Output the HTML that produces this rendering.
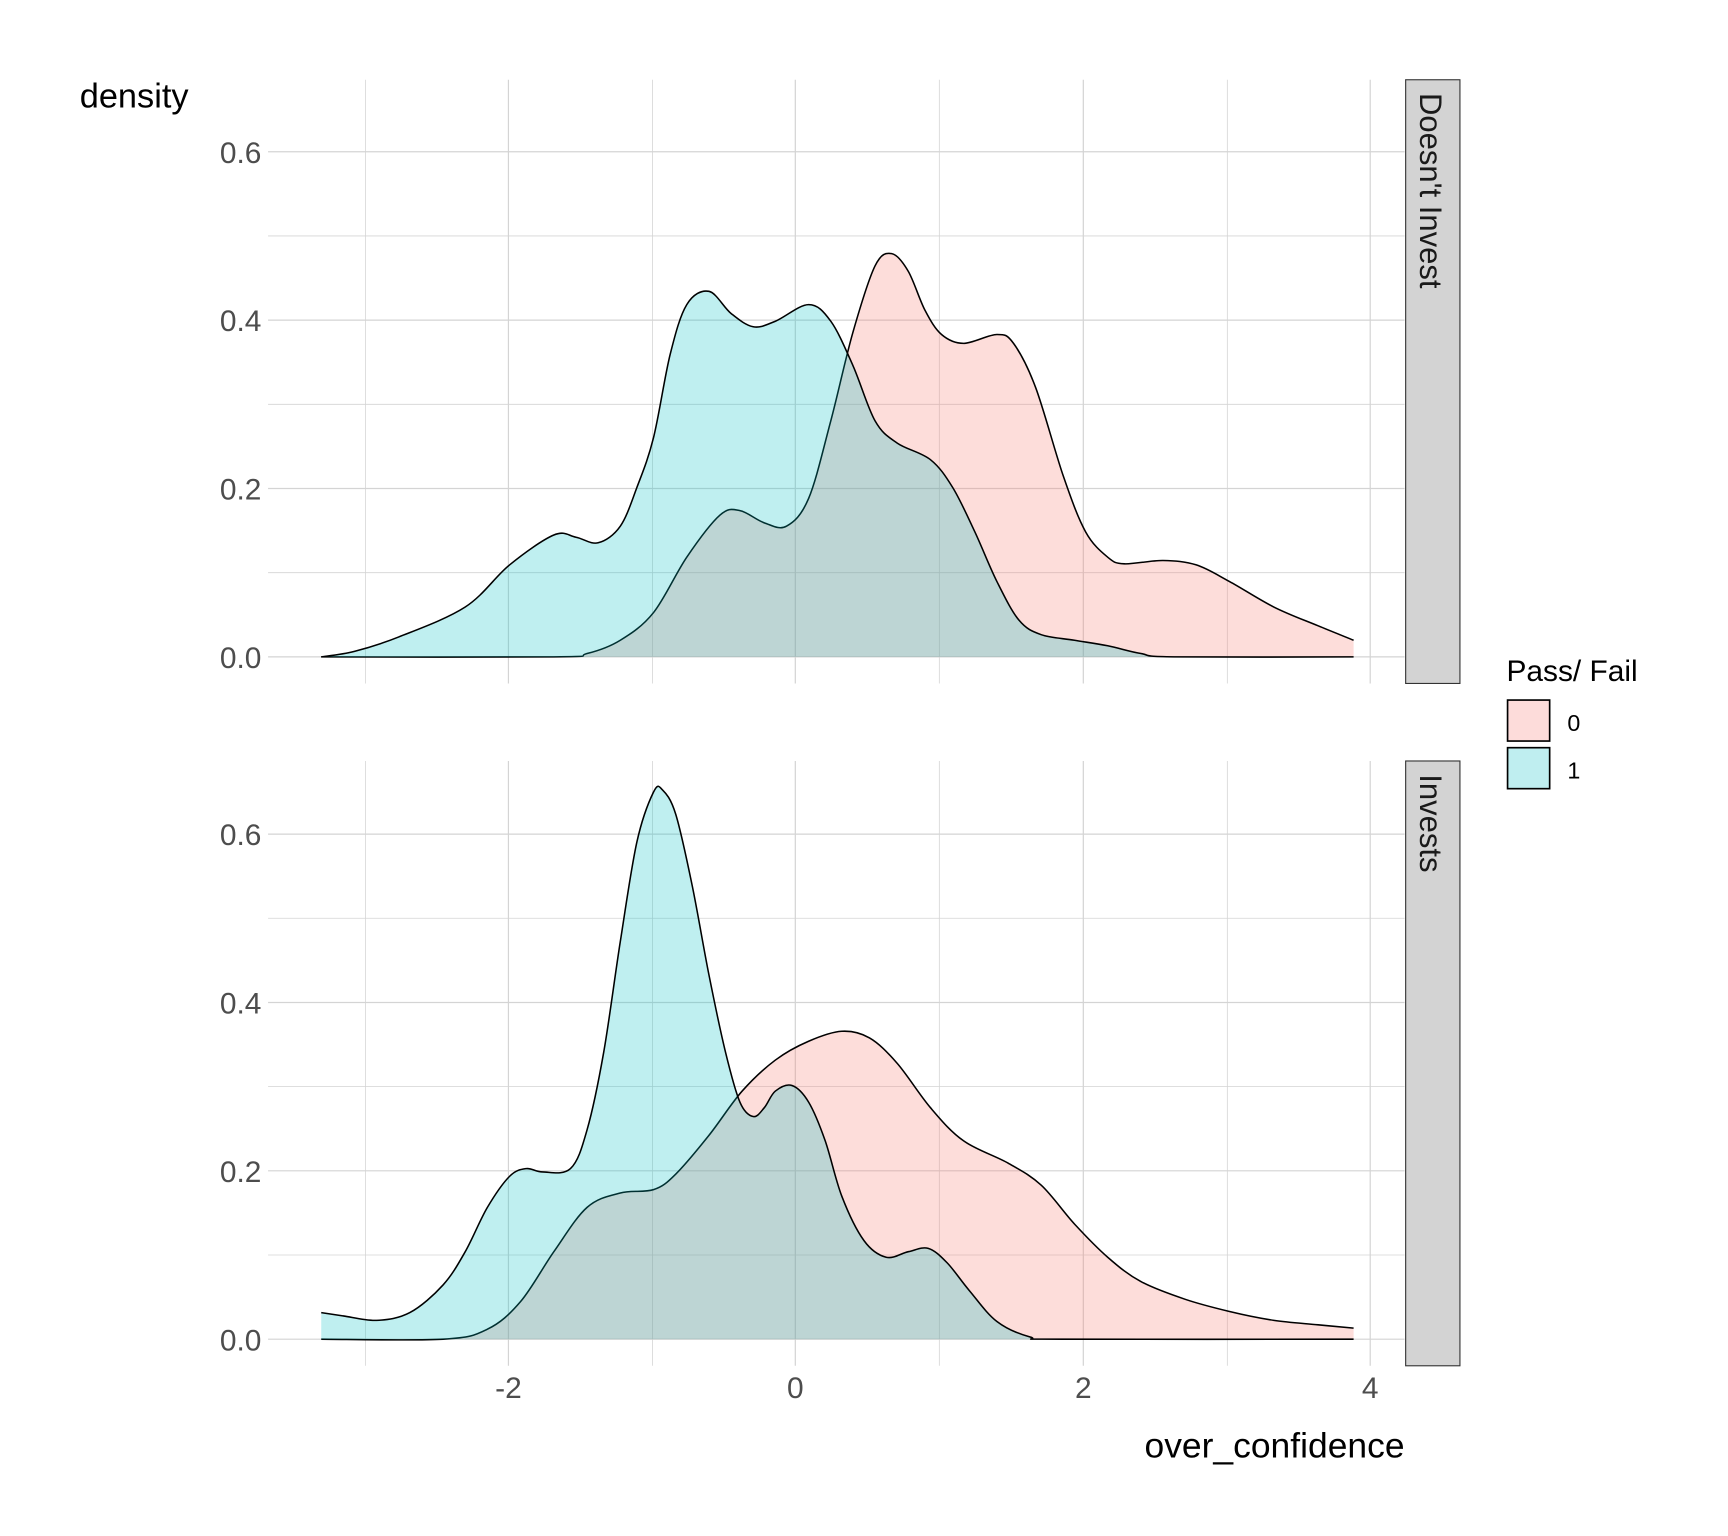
<!DOCTYPE html>
<html><head><meta charset="utf-8"><style>
html,body{margin:0;padding:0;background:#fff}
svg{display:block}
text{font-family:"Liberation Sans",sans-serif}
</style></head><body>
<svg id="s" width="1728" height="1536" viewBox="0 0 1560 1386.67" xmlns="http://www.w3.org/2000/svg">
<rect width="1560" height="1387" fill="#fff"/>
<g id="grid" stroke="#d4d4d4" stroke-width="1"></g>
<g id="curves"></g>
<rect x="1269" y="72" width="49" height="545" fill="#d3d3d3" stroke="#333" stroke-width="1"/>
<rect x="1269" y="687" width="49" height="546" fill="#d3d3d3" stroke="#333" stroke-width="1"/>
<text transform="translate(1282,84) rotate(90)" font-size="28" fill="#1a1a1a">Doesn't Invest</text>
<text transform="translate(1282,699) rotate(90)" font-size="28" fill="#1a1a1a">Invests</text>
<g font-size="27" fill="#4d4d4d" text-anchor="end">
<text x="236" y="147">0.6</text><text x="236" y="299">0.4</text><text x="236" y="451">0.2</text><text x="236" y="603">0.0</text>
<text x="236" y="763">0.6</text><text x="236" y="915">0.4</text><text x="236" y="1067">0.2</text><text x="236" y="1219">0.0</text>
</g>
<g font-size="27" fill="#4d4d4d" text-anchor="middle">
<text x="459" y="1262">-2</text><text x="718" y="1262">0</text><text x="978" y="1262">2</text><text x="1237" y="1262">4</text>
</g>
<text x="72" y="97" font-size="31" fill="#000">density</text>
<text x="1268" y="1316" font-size="32" fill="#000" text-anchor="end">over_confidence</text>
<text x="1360" y="615" font-size="27" fill="#000">Pass/ Fail</text>
<rect x="1361" y="632" width="38" height="37" fill="#fddcda" stroke="#000" stroke-width="1.5"/>
<rect x="1361" y="675" width="38" height="37" fill="#bfeef0" stroke="#000" stroke-width="1.5"/>
<text x="1415" y="660" font-size="21" fill="#000">0</text>
<text x="1415" y="703" font-size="21" fill="#000">1</text>
</svg>
<script>
var NS="http://www.w3.org/2000/svg";
var g=document.getElementById("grid");
function line(x1,y1,x2,y2,w){var l=document.createElementNS(NS,"line");l.setAttribute("x1",x1);l.setAttribute("y1",y1);l.setAttribute("x2",x2);l.setAttribute("y2",y2);l.setAttribute("stroke-width",w);g.appendChild(l);}
[[72,617,593],[687,1233,1209]].forEach(function(p){
 for(var i=0;i<7;i++){var y=p[2]-76*i;line(242,y,1268,y,i%2?0.7:1.1);}
 [330,459,589,718,848,978,1108,1237].forEach(function(x,i){line(x,p[0],x,p[1],i%2?1.1:0.7);});
});
function smooth(pts){var d="M"+pts[0][0]+","+pts[0][1];
 for(var i=0;i<pts.length-1;i++){var p0=pts[i-1]||pts[i],p1=pts[i],p2=pts[i+1],p3=pts[i+2]||p2;
  var c1=[p1[0]+(p2[0]-p0[0])/6,p1[1]+(p2[1]-p0[1])/6],c2=[p2[0]-(p3[0]-p1[0])/6,p2[1]-(p3[1]-p1[1])/6];
  d+=" C"+c1[0].toFixed(1)+","+c1[1].toFixed(1)+" "+c2[0].toFixed(1)+","+c2[1].toFixed(1)+" "+p2[0]+","+p2[1];}
 return d;}
var C=document.getElementById("curves");
function area(pts,base,col){var d=smooth(pts);
 var f=document.createElementNS(NS,"path");f.setAttribute("d",d+" L"+pts[pts.length-1][0]+","+base+" L"+pts[0][0]+","+base+"Z");f.setAttribute("fill",col);f.setAttribute("fill-opacity","0.25");C.appendChild(f);
 var s=document.createElementNS(NS,"path");s.setAttribute("d",d);s.setAttribute("fill","none");s.setAttribute("stroke","#000");s.setAttribute("stroke-width","1.4");C.appendChild(s);}
var tr=[[290,593],[500,593],[530,590],[560,578],[590,553],[620,503],[650,465],[668,461],[690,472],[710,475],[730,450],[750,380],[770,300],[790,240],[805,229],[820,245],[835,280],[850,302],[870,310],[900,302],[915,310],[935,350],[960,430],[980,480],[1000,503],[1015,509],[1050,506],[1080,510],[1110,525],[1150,548],[1190,565],[1222,578]];
var tc=[[290,593],[320,588],[360,575],[420,548],[460,510],[500,483],[520,485],[540,490],[560,475],[575,440],[590,395],[605,320],[620,275],[640,263],[660,283],[680,295],[700,290],[730,275],[750,290],[770,330],[790,380],[810,400],[840,415],[860,440],[880,480],[900,525],[920,560],[940,573],[970,578],[1000,583],[1030,590],[1060,593],[1222,593]];
var br=[[290,1209],[400,1209],[440,1200],[470,1175],[500,1130],[530,1090],[560,1077],[590,1074],[610,1060],[640,1025],[670,985],[700,957],[730,940],[760,931],[785,937],[810,960],[840,1000],[870,1030],[910,1050],[940,1070],[970,1105],[1000,1135],[1030,1157],[1070,1173],[1110,1184],[1150,1192],[1190,1196],[1222,1199]];
var bc=[[290,1185],[310,1188],[340,1192],[370,1185],[400,1160],[420,1130],[440,1090],[460,1062],[475,1055],[490,1058],[515,1055],[530,1020],[545,950],[560,850],[575,760],[590,715],[598,713],[610,735],[625,800],[640,880],[655,950],[668,995],[680,1008],[690,1000],[700,985],[715,980],[730,995],[745,1030],[760,1080],[780,1120],[800,1135],[820,1130],[838,1127],[855,1140],[875,1165],[900,1193],[930,1207],[960,1209],[1222,1209]];
area(tr,593,"#F8766D");area(tc,593,"#00BFC4");
area(br,1209,"#F8766D");area(bc,1209,"#00BFC4");
</script>
</body></html>
